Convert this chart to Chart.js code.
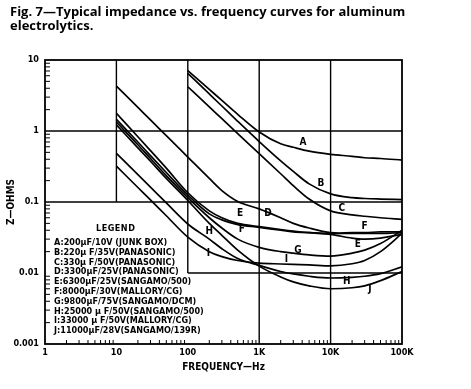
<!DOCTYPE html>
<html>
<head>
<meta charset="utf-8">
<script src="https://cdn.jsdelivr.net/npm/chart.js@4"></script>
<style>
html, body { margin: 0; padding: 0; background: #fff; }
#wrap { position: relative; width: 471px; height: 389px; }
#title { position: absolute; left: 10px; top: 5px; font: bold 13px "Open Sans", sans-serif; line-height: 13.5px; color: #000; }
#legendHead { position: absolute; left: 96px; top: 223px; font: bold 9px "DejaVu Sans Condensed", "DejaVu Sans", sans-serif; letter-spacing: 0.5px; }
#legend { position: absolute; left: 54px; top: 238px; font: bold 9px "DejaVu Sans Condensed", "DejaVu Sans", sans-serif; line-height: 9.8px; color: #000; white-space: nowrap; }
canvas { position: absolute; left: 0; top: 0; }
</style>
</head>
<body>
<div id="wrap">
  <canvas id="zChart" width="471" height="389"></canvas>
  <div id="title">Fig. 7—Typical impedance vs. frequency curves for aluminum<br>electrolytics.</div>
  <div id="legendHead">LEGEND</div>
  <div id="legend"></div>
</div>
<script>
// frequency points (Hz) the curves were read at
var freqs = [10, 20, 30, 50, 100, 200, 300, 500, 1000, 2000, 3000, 5000, 10000, 20000, 30000, 50000, 100000];

// impedance (ohms), null where the curve is not drawn
var zA = [null, null, null, null, 7.07, 3.85, 2.7, 1.72, 0.97, 0.66, 0.59, 0.52, 0.47, 0.44, 0.42, 0.41, 0.39];
var zB = [null, null, null, null, 6.5, 3.33, 2.25, 1.37, 0.71, 0.38, 0.27, 0.18, 0.13, 0.115, 0.112, 0.11, 0.108];
var zC = [null, null, null, null, 4.2, 2.19, 1.49, 0.92, 0.48, 0.25, 0.17, 0.11, 0.075, 0.066, 0.063, 0.06, 0.057];
var zD = [4.3, 2.15, 1.43, 0.86, 0.43, 0.215, 0.145, 0.102, 0.08, 0.06, 0.05, 0.043, 0.037, 0.036, 0.036, 0.036, 0.037];
var zE = [1.78, 0.83, 0.53, 0.3, 0.135, 0.075, 0.06, 0.05, 0.045, 0.041, 0.039, 0.037, 0.035, 0.031, 0.03, 0.031, 0.035];
var zF = [1.46, 0.7, 0.45, 0.26, 0.125, 0.068, 0.056, 0.048, 0.044, 0.04, 0.038, 0.037, 0.036, 0.037, 0.037, 0.038, 0.038];
var zG = [1.34, 0.64, 0.41, 0.235, 0.115, 0.06, 0.043, 0.03, 0.023, 0.02, 0.019, 0.018, 0.0173, 0.019, 0.021, 0.026, 0.04];
var zH = [0.485, 0.243, 0.162, 0.097, 0.049, 0.03, 0.022, 0.016, 0.0128, 0.0105, 0.0097, 0.009, 0.0085, 0.0087, 0.009, 0.0098, 0.0122];
var zI = [0.32, 0.16, 0.107, 0.064, 0.032, 0.02, 0.017, 0.015, 0.0138, 0.0134, 0.0132, 0.013, 0.0126, 0.0135, 0.015, 0.02, 0.036];
var zJ = [1.22, 0.58, 0.375, 0.215, 0.105, 0.05, 0.034, 0.021, 0.0125, 0.0088, 0.0075, 0.0066, 0.006, 0.0062, 0.0066, 0.0078, 0.0105];

var curveKeys = ['A', 'B', 'C', 'D', 'E', 'F', 'G', 'H', 'I', 'J'];
var curveValues = [zA, zB, zC, zD, zE, zF, zG, zH, zI, zJ];

var legendLines = [
	'A:200µF/10V (JUNK BOX)',
	'B:220µ F/35V(PANASONIC)',
	'C:330µ F/50V(PANASONIC)',
	'D:3300µF/25V(PANASONIC)',
	'E:6300µF/25V(SANGAMO/500)',
	'F:8000µF/30V(MALLORY/CG)',
	'G:9800µF/75V(SANGAMO/DCM)',
	'H:25000 µ F/50V(SANGAMO/500)',
	'I:33000 µ F/50V(MALLORY/CG)',
	'J:11000µF/28V(SANGAMO/139R)'
];

// letters written next to the curves: [letter, Hz, ohms]
var curveTags = [
	['A', 4100, 0.68], ['B', 7300, 0.183], ['C', 14300, 0.081], ['D', 1330, 0.069],
	['E', 540, 0.069], ['F', 570, 0.041], ['H', 200, 0.038], ['I', 194, 0.019],
	['G', 3500, 0.021], ['I', 2400, 0.0156], ['F', 30000, 0.045], ['E', 24000, 0.025],
	['H', 16800, 0.0076], ['J', 35600, 0.0058]
];

var xDecades = [1, 10, 100, 1000, 10000, 100000];
var xDecadeLabels = ['1', '10', '100', '1K', '10K', '100K'];
var yDecades = [0.001, 0.01, 0.1, 1, 10];
var yDecadeLabels = ['0.001', '0.01', '0.1', '1', '10'];

// grid pieces of the paper: [value, from, to]
var hGrid = [[1, 1, 100000], [0.1, 1, 100000], [0.01, 100, 100000]];
var vGrid = [[10, 0.1, 10], [100, 0.01, 10], [1000, 0.001, 10], [10000, 0.001, 10]];

document.getElementById('legend').innerHTML = legendLines.map(function (l) {
	return '<div>' + l + '</div>';
}).join('');

var tickFont = { family: '"DejaVu Sans Condensed", "DejaVu Sans", sans-serif', size: 9, weight: 'bold' };

/**
 * Paper grid, frame, inward minor ticks and curve letters
 */
var paperPlugin = {
	id: 'paper',
	beforeDatasetsDraw: function (chart) {
		var ctx = chart.ctx, x = chart.scales.x, y = chart.scales.y, a = chart.chartArea;
		ctx.save();
		ctx.strokeStyle = '#000';
		ctx.lineWidth = 1.4;
		hGrid.forEach(function (g) {
			ctx.beginPath();
			ctx.moveTo(x.getPixelForValue(g[1]), y.getPixelForValue(g[0]));
			ctx.lineTo(x.getPixelForValue(g[2]), y.getPixelForValue(g[0]));
			ctx.stroke();
		});
		vGrid.forEach(function (g) {
			ctx.beginPath();
			ctx.moveTo(x.getPixelForValue(g[0]), y.getPixelForValue(g[1]));
			ctx.lineTo(x.getPixelForValue(g[0]), y.getPixelForValue(g[2]));
			ctx.stroke();
		});
		ctx.lineWidth = 1.8;
		ctx.strokeRect(a.left, a.top, a.right - a.left, a.bottom - a.top);
		// minor ticks
		ctx.lineWidth = 1;
		for (var d = 0; d < 4; d++) {
			for (var k = 2; k <= 9; k++) {
				var yv = y.getPixelForValue(yDecades[d] * k);
				ctx.beginPath();
				ctx.moveTo(a.left, yv);
				ctx.lineTo(a.left + 5, yv);
				ctx.stroke();
			}
		}
		for (var dx = 0; dx < 5; dx++) {
			for (var kx = 2; kx <= 9; kx++) {
				var xv = x.getPixelForValue(xDecades[dx] * kx);
				ctx.beginPath();
				ctx.moveTo(xv, a.bottom);
				ctx.lineTo(xv, a.bottom - 4);
				ctx.stroke();
			}
		}
		ctx.restore();
	},
	afterDatasetsDraw: function (chart) {
		var ctx = chart.ctx, x = chart.scales.x, y = chart.scales.y;
		ctx.save();
		ctx.fillStyle = '#000';
		ctx.font = 'bold 10px "DejaVu Sans Condensed", "DejaVu Sans", sans-serif';
		ctx.textAlign = 'center';
		ctx.textBaseline = 'middle';
		curveTags.forEach(function (t) {
			ctx.fillText(t[0], x.getPixelForValue(t[1]), y.getPixelForValue(t[2]));
		});
		ctx.restore();
	}
};

var datasets = curveValues.map(function (vals, i) {
	var pts = [];
	freqs.forEach(function (f, j) {
		if (vals[j] !== null) pts.push({ x: f, y: vals[j] });
	});
	return {
		label: curveKeys[i],
		data: pts,
		borderColor: '#000',
		borderWidth: 1.7,
		pointRadius: 0,
		fill: false,
		cubicInterpolationMode: 'monotone'
	};
});

var zChart = new Chart(document.getElementById('zChart'), {
	type: 'line',
	data: { datasets: datasets },
	options: {
		responsive: false,
		animation: false,
		devicePixelRatio: 1,
		layout: { padding: { top: 60, right: 69, left: 0, bottom: 0 } },
		plugins: { legend: { display: false }, tooltip: { enabled: false } },
		scales: {
			x: {
				type: 'logarithmic',
				min: 1,
				max: 100000,
				grid: { display: false, drawTicks: false },
				border: { display: false },
				afterBuildTicks: function (s) { s.ticks = xDecades.map(function (v) { return { value: v }; }); },
				afterFit: function (s) { s.height = 45; },
				ticks: {
					autoSkip: false,
					maxRotation: 0,
					padding: 3,
					color: '#000',
					font: tickFont,
					callback: function (v) { return xDecadeLabels[xDecades.indexOf(v)]; }
				},
				title: {
					display: true,
					text: 'FREQUENCY—Hz',
					color: '#000',
					font: { family: tickFont.family, size: 10, weight: 'bold' },
					padding: { top: 0, bottom: 16 }
				}
			},
			y: {
				type: 'logarithmic',
				min: 0.001,
				max: 10,
				grid: { display: false, drawTicks: false },
				border: { display: false },
				afterBuildTicks: function (s) { s.ticks = yDecades.map(function (v) { return { value: v }; }); },
				afterFit: function (s) { s.width = 45; },
				ticks: {
					autoSkip: false,
					padding: 6,
					color: '#000',
					font: tickFont,
					callback: function (v) { return yDecadeLabels[yDecades.indexOf(v)]; }
				},
				title: {
					display: true,
					text: 'Z—OHMS',
					color: '#000',
					font: { family: tickFont.family, size: 10, weight: 'bold' },
					padding: { top: 5, bottom: 0 }
				}
			}
		}
	},
	plugins: [paperPlugin]
});
</script>
</body>
</html>
